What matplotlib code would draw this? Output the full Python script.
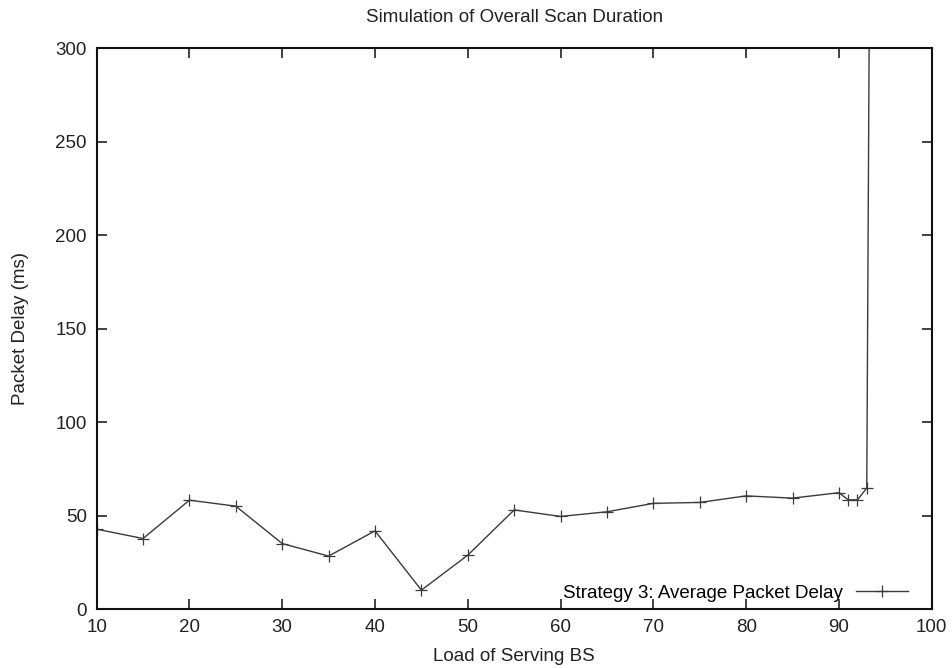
import matplotlib
matplotlib.use("Agg")
import matplotlib.pyplot as plt

load = [10, 15, 20, 25, 30, 35, 40, 45, 50, 55, 60, 65, 70, 75, 80, 85, 90, 91, 92, 93, 94]
delay = [42.7, 37.7, 58.2, 55.0, 35.0, 28.3, 41.8, 10.1, 28.8, 53.0, 49.5, 52.0, 56.5, 57.0, 60.5, 59.3, 62.2, 58.4, 58.4, 64.7, 1000.0]
series_label = "Strategy 3: Average Packet Delay"
xticks = [10, 20, 30, 40, 50, 60, 70, 80, 90, 100]
yticks = [0, 50, 100, 150, 200, 250, 300]

plt.rcParams['font.family'] = ['Liberation Sans', 'DejaVu Sans']
FS = 13.5

fig = plt.figure(figsize=(9.52, 6.68), dpi=100)
ax = fig.add_axes([0.1015, 0.0883, 0.8772, 0.8398])

ax.plot(load, delay, color='#3a3a3a', linewidth=1.0, marker='+', markersize=8,
        markeredgewidth=0.9, label=series_label)

ax.set_xlim(10, 100)
ax.set_ylim(0, 300)
ax.set_xticks(xticks)
ax.set_yticks(yticks)
ax.tick_params(direction='in', length=7, width=1.2, top=True, right=True,
               labelsize=FS, colors='#222222', pad=7)
for s in ax.spines.values():
    s.set_linewidth(1.5)
    s.set_color('#111111')

ax.set_title("Simulation of Overall Scan Duration", fontsize=FS, pad=19, color='#222222')
ax.set_xlabel("Load of Serving BS", fontsize=FS, labelpad=9, color='#222222')
ax.set_ylabel("Packet Delay (ms)", fontsize=FS, labelpad=19, color='#222222')

leg = ax.legend(loc='lower right', bbox_to_anchor=(0.981, 0.0), frameon=False,
                fontsize=FS, markerfirst=False, handlelength=2.8,
                borderaxespad=0.0, handletextpad=0.7)

fig.savefig("out.png", dpi=100)
